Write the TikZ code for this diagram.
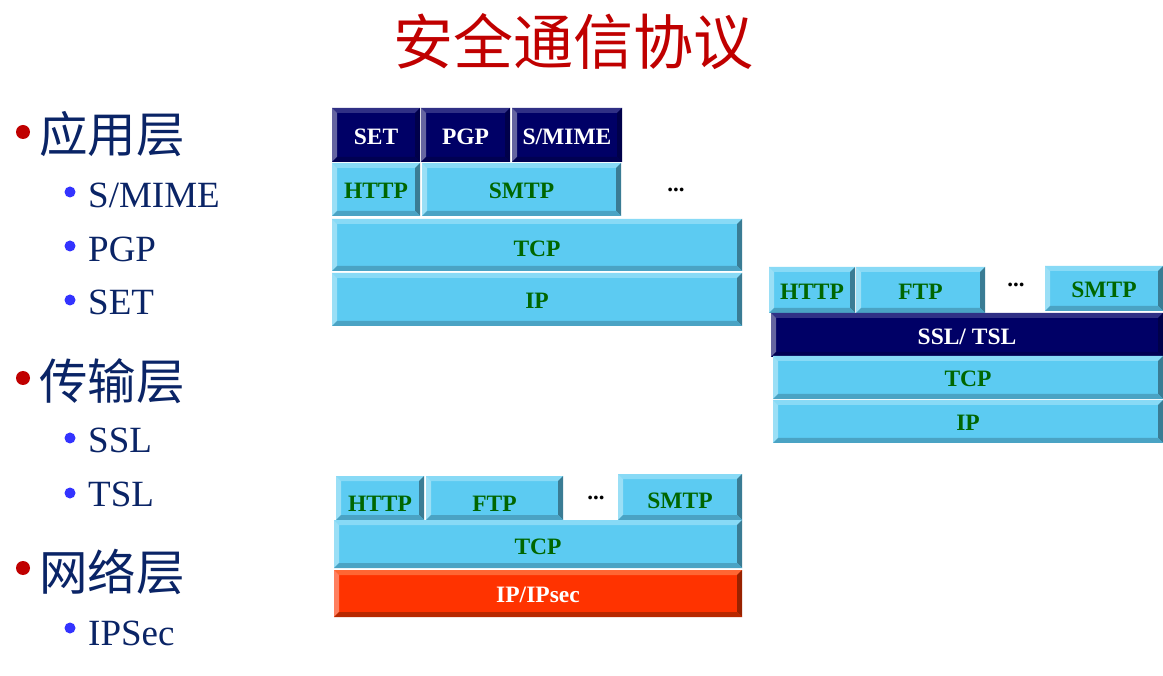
\documentclass[tikz,border=0pt]{standalone}
\usepackage{fontspec}
\setmainfont{Liberation Serif}
\newfontfamily\cjk{Noto Sans CJK SC}
\definecolor{blF}{HTML}{5CCBF2}
\definecolor{blT}{HTML}{88DAF6}
\definecolor{blL}{HTML}{9ADFF6}
\definecolor{blR}{HTML}{3A7C94}
\definecolor{blB}{HTML}{4AA3C4}
\definecolor{nvF}{HTML}{000066}
\definecolor{nvT}{HTML}{303085}
\definecolor{nvL}{HTML}{6565A0}
\definecolor{nvR}{HTML}{00004A}
\definecolor{nvB}{HTML}{000052}
\definecolor{rdF}{HTML}{FF3300}
\definecolor{rdT}{HTML}{FF6633}
\definecolor{rdL}{HTML}{FF7F5F}
\definecolor{rdR}{HTML}{992200}
\definecolor{rdB}{HTML}{B82800}
\definecolor{labgreen}{HTML}{006600}
\definecolor{titlered}{HTML}{C00000}
\definecolor{listnavy}{HTML}{0A2466}
\definecolor{bulred}{HTML}{C00000}
\definecolor{bulblue}{HTML}{3333FF}
\newcommand\brick[8]{%
  \fill[#6F] (#2,#3) rectangle (#4,#5);
  \fill[#6T] (#2,#3) -- (#4,#3) -- ({#4-5},{#3+5}) -- ({#2+5},{#3+5}) -- cycle;
  \fill[#6L] (#2,#3) -- ({#2+5},{#3+5}) -- ({#2+5},{#5-5}) -- (#2,#5) -- cycle;
  \fill[#6R] (#4,#3) -- (#4,#5) -- ({#4-5},{#5-5}) -- ({#4-5},{#3+5}) -- cycle;
  \fill[#6B] (#2,#5) -- (#4,#5) -- ({#4-5},{#5-5}) -- ({#2+5},{#5-5}) -- cycle;
  \node[#7] (#1) at ({(#2+#4)/2},{(#3+#5)/2}) {#8};
}
\begin{document}
\begin{tikzpicture}[x=1pt,y=-1pt,
  lab/.style={font=\bfseries\fontsize{23.5}{23.5}\selectfont, inner sep=0pt, text height=15.5pt, text depth=0pt, yshift=-1.5pt},
  gl/.style={lab, text=labgreen},
  wl/.style={lab, text=white},
  dots/.style={font=\bfseries\fontsize{23}{23}\selectfont, inner sep=0pt, anchor=base},
  head/.style={font=\cjk\fontsize{48.5}{48.5}\selectfont, text=listnavy, anchor=west, inner sep=0pt},
  sub/.style={font=\fontsize{37}{37}\selectfont, text=listnavy, anchor=base west, inner sep=0pt},
  rb/.style={fill=bulred},
  bb/.style={fill=bulblue}]
\useasboundingbox (0,0) rectangle (1163,676);
\fill[white] (0,0) rectangle (1163,676);
% title
\node[font=\cjk\fontsize{60}{60}\selectfont, text=titlered, inner sep=0pt] (title) at (573,42) {安全通信协议};
% left list
\fill[rb] (23,132) circle (7);
\node[head] (h1) at (39,134) {应用层};
\fill[bb] (70,192) circle (5.5);
\node[sub] (s1) at (88,208) {S/MIME};
\fill[bb] (70,246) circle (5.5);
\node[sub] (s2) at (88,262) {PGP};
\fill[bb] (70,300) circle (5.5);
\node[sub] (s3) at (88,315) {SET};
\fill[rb] (23,378) circle (7);
\node[head] (h2) at (39,381) {传输层};
\fill[bb] (70,438) circle (5.5);
\node[sub] (s4) at (88,453) {SSL};
\fill[bb] (70,493) circle (5.5);
\node[sub] (s5) at (88,507) {TSL};
\fill[rb] (23,568) circle (7);
\node[head] (h3) at (39,572) {网络层};
\fill[bb] (70,628) circle (5.5);
\node[sub] (s6) at (88,645) {IPSec};
% stack 1
\brick{aset}{332}{108}{420}{162}{nv}{wl}{SET}
\brick{apgp}{421}{108}{510}{162}{nv}{wl}{PGP}
\brick{amime}{512}{108}{622}{162}{nv}{wl}{S/MIME}
\brick{ahttp}{332}{163}{420}{216}{bl}{gl}{HTTP}
\brick{asmtp}{422}{163}{621}{216}{bl}{gl}{SMTP}
\node[dots] (adots) at (676,192) {...};
\brick{atcp}{332}{219}{742}{271}{bl}{gl,yshift=-2pt}{TCP}
\brick{aip}{332}{273}{742}{326}{bl}{gl}{IP}
% stack 2
\brick{bhttp}{769}{267}{855}{313}{bl}{gl}{HTTP}
\brick{bftp}{856}{267}{985}{313}{bl}{gl}{FTP}
\node[dots] (bdots) at (1016,287) {...};
\brick{bsmtp}{1045}{266}{1163}{311}{bl}{gl}{SMTP}
\brick{bssl}{771}{313}{1163}{357}{nv}{wl}{SSL/ TSL}
\brick{btcp}{773}{356}{1163}{399}{bl}{gl}{TCP}
\brick{bip}{773}{400}{1163}{443}{bl}{gl}{IP}
% stack 3
\brick{chttp}{336}{476}{424}{520}{bl}{gl,yshift=-4pt}{HTTP}
\brick{cftp}{426}{476}{563}{520}{bl}{gl,yshift=-4pt}{FTP}
\node[dots] (cdots) at (596,499) {...};
\brick{csmtp}{618}{474}{742}{520}{bl}{gl,yshift=-2pt}{SMTP}
\brick{ctcp}{334}{520}{742}{568}{bl}{gl,yshift=-1pt}{TCP}
\brick{cip}{334}{570}{742}{617}{rd}{wl}{IP/IPsec}
\end{tikzpicture}
\end{document}
